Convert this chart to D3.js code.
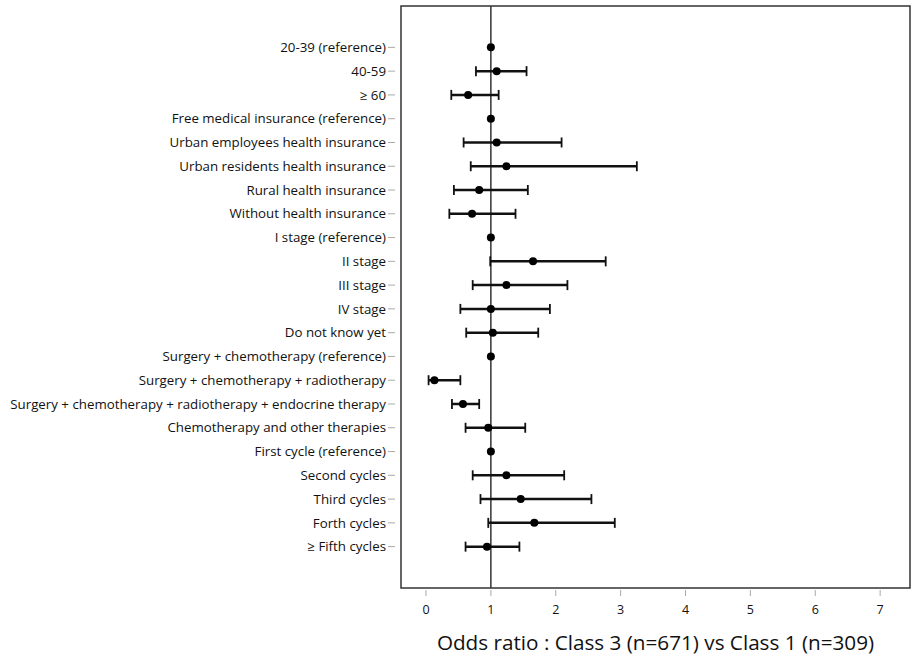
<!DOCTYPE html>
<html>
<head>
<meta charset="utf-8">
<script src="https://cdn.jsdelivr.net/npm/d3@7"></script>
<style>
  body { margin: 0; background: #fff; }
  text { font-family: "Open Sans", sans-serif; fill: #111; }
</style>
</head>
<body>
<script>
// Row labels, top to bottom
const labels = [
  '20-39 (reference)', '40-59', '\u2265 60',
  'Free medical insurance (reference)', 'Urban employees health insurance',
  'Urban residents health insurance', 'Rural health insurance', 'Without health insurance',
  'I stage (reference)', 'II stage', 'III stage', 'IV stage', 'Do not know yet',
  'Surgery + chemotherapy (reference)', 'Surgery + chemotherapy + radiotherapy',
  'Surgery + chemotherapy + radiotherapy + endocrine therapy',
  'Chemotherapy and other therapies',
  'First cycle (reference)', 'Second cycles', 'Third cycles', 'Forth cycles', '\u2265 Fifth cycles'
];

// Odds ratios and 95% CI (null = reference category, no interval)
const oddsRatio = [1, 1.09, 0.65, 1, 1.09, 1.24, 0.82, 0.71, 1, 1.65, 1.24, 1.00, 1.03,
  1, 0.13, 0.57, 0.96, 1, 1.24, 1.46, 1.67, 0.94];
const ciLow = [null, 0.77, 0.39, null, 0.58, 0.69, 0.43, 0.36, null, 0.99, 0.72, 0.53, 0.62,
  null, 0.04, 0.40, 0.61, null, 0.72, 0.84, 0.96, 0.61];
const ciHigh = [null, 1.55, 1.12, null, 2.09, 3.25, 1.57, 1.38, null, 2.77, 2.18, 1.91, 1.73,
  null, 0.53, 0.82, 1.53, null, 2.13, 2.55, 2.91, 1.44];

const xTicks = [0, 1, 2, 3, 4, 5, 6, 7];
const xTitle = 'Odds ratio : Class 3 (n=671) vs Class 1 (n=309)';

const width = 918;
const height = 657;
const plot = { left: 401, right: 910, top: 6, bottom: 588 };

const svg = d3.select('body')
  .append('svg')
  .attr('width', width)
  .attr('height', height);

const x = d3.scaleLinear()
  .domain([-0.385, 7.46])
  .range([plot.left, plot.right]);

const y = d3.scalePoint()
  .domain(labels)
  .range([plot.top, plot.bottom])
  .padding(1.74);

const rows = labels.map((label, i) => ({
  label, or: oddsRatio[i], lo: ciLow[i], hi: ciHigh[i]
}));

// y axis ticks + labels
const yAxis = svg.append('g');
yAxis.selectAll('line')
  .data(labels)
  .enter()
  .append('line')
  .attr('x1', plot.left - 13)
  .attr('x2', plot.left - 6)
  .attr('y1', d => y(d))
  .attr('y2', d => y(d))
  .attr('stroke', '#aaa')
  .attr('stroke-width', 1);
yAxis.selectAll('text')
  .data(labels)
  .enter()
  .append('text')
  .attr('x', plot.left - 15)
  .attr('y', d => y(d))
  .attr('dy', '0.35em')
  .attr('text-anchor', 'end')
  .style('font-size', '13.3px')
  .text(d => d);

// x axis ticks + labels
const xAxis = svg.append('g');
xAxis.selectAll('line')
  .data(xTicks)
  .enter()
  .append('line')
  .attr('x1', d => x(d))
  .attr('x2', d => x(d))
  .attr('y1', plot.bottom + 2)
  .attr('y2', plot.bottom + 8)
  .attr('stroke', '#aaa')
  .attr('stroke-width', 1);
xAxis.selectAll('text')
  .data(xTicks)
  .enter()
  .append('text')
  .attr('x', d => x(d))
  .attr('y', plot.bottom + 22)
  .attr('dy', '0.35em')
  .attr('text-anchor', 'middle')
  .style('font-size', '12.5px')
  .text(d => d);

svg.append('text')
  .attr('x', (plot.left + plot.right) / 2)
  .attr('y', 643)
  .attr('dy', '0.35em')
  .attr('text-anchor', 'middle')
  .style('font-size', '20.7px')
  .text(xTitle);

// reference line at OR = 1
svg.append('line')
  .attr('x1', x(1))
  .attr('x2', x(1))
  .attr('y1', plot.top)
  .attr('y2', plot.bottom)
  .attr('stroke', '#333')
  .attr('stroke-width', 1.5);

// confidence intervals
const ci = svg.append('g')
  .selectAll('g')
  .data(rows.filter(d => d.lo !== null))
  .enter()
  .append('g')
  .attr('stroke', '#111');

ci.append('line')
  .attr('x1', d => x(d.lo))
  .attr('x2', d => x(d.hi))
  .attr('y1', d => y(d.label))
  .attr('y2', d => y(d.label))
  .attr('stroke-width', 2.5);

ci.selectAll('line.cap')
  .data(d => [[d.lo, d.label], [d.hi, d.label]])
  .enter()
  .append('line')
  .attr('class', 'cap')
  .attr('x1', d => x(d[0]))
  .attr('x2', d => x(d[0]))
  .attr('y1', d => y(d[1]) - 5)
  .attr('y2', d => y(d[1]) + 5)
  .attr('stroke-width', 1.8);

// point estimates
svg.append('g')
  .selectAll('circle')
  .data(rows)
  .enter()
  .append('circle')
  .attr('cx', d => x(d.or))
  .attr('cy', d => y(d.label))
  .attr('r', 4)
  .attr('fill', '#000');

// plot frame
svg.append('rect')
  .attr('x', plot.left)
  .attr('y', plot.top)
  .attr('width', plot.right - plot.left)
  .attr('height', plot.bottom - plot.top)
  .attr('fill', 'none')
  .attr('stroke', '#333')
  .attr('stroke-width', 1.5);
</script>
</body>
</html>
